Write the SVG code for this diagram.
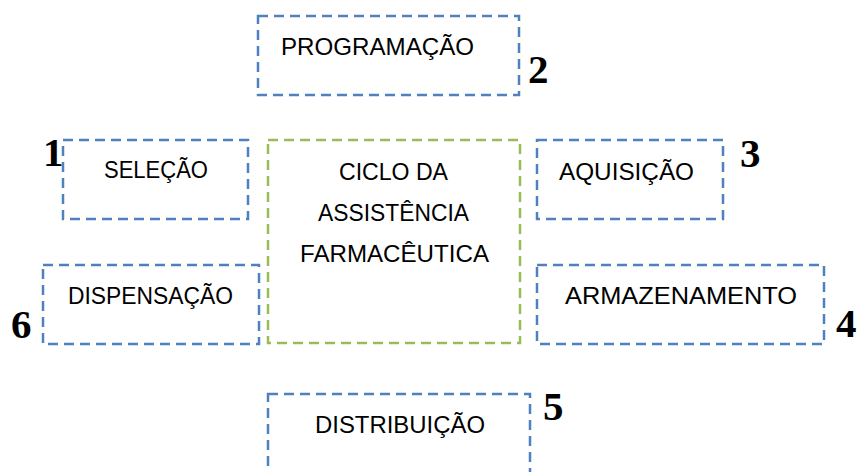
<svg xmlns="http://www.w3.org/2000/svg" width="860" height="472" viewBox="0 0 860 472">
<style>
.box{fill:none;stroke:#4F81BD;stroke-width:2.5;stroke-dasharray:10 6;}
.cbox{fill:none;stroke:#9BBB59;stroke-width:2.5;stroke-dasharray:10 6;}
.lbl{font-family:"Liberation Sans",Arial,sans-serif;font-size:24px;fill:#000;}
.num{font-family:"Liberation Serif","Times New Roman",serif;font-size:41px;font-weight:bold;fill:#000;}
</style>
<rect width="860" height="472" fill="#fff"/>
<g id="connectors"></g>
<g id="programacao">
<rect class="box" x="258" y="16" width="261" height="79"/>
<text class="lbl" x="281" y="55" textLength="193" lengthAdjust="spacingAndGlyphs">PROGRAMAÇÃO</text>
<text class="num" x="528" y="83">2</text>
</g>
<g id="selecao">
<rect class="box" x="63" y="140" width="185" height="79"/>
<text class="lbl" x="104" y="178" textLength="104" lengthAdjust="spacingAndGlyphs">SELEÇÃO</text>
<text class="num" x="43" y="166">1</text>
</g>
<g id="ciclo">
<rect class="cbox" x="268" y="140" width="252" height="203"/>
<text class="lbl" x="339" y="180" textLength="109" lengthAdjust="spacingAndGlyphs">CICLO DA</text>
<text class="lbl" x="318" y="221" textLength="151" lengthAdjust="spacingAndGlyphs">ASSISTÊNCIA</text>
<text class="lbl" x="300" y="262" textLength="189" lengthAdjust="spacingAndGlyphs">FARMACÊUTICA</text>
</g>
<g id="aquisicao">
<rect class="box" x="537" y="140" width="186" height="79"/>
<text class="lbl" x="559" y="180" textLength="135" lengthAdjust="spacingAndGlyphs">AQUISIÇÃO</text>
<text class="num" x="740" y="167">3</text>
</g>
<g id="dispensacao">
<rect class="box" x="43" y="265" width="216" height="79"/>
<text class="lbl" x="68" y="304" textLength="165" lengthAdjust="spacingAndGlyphs">DISPENSAÇÃO</text>
<text class="num" x="11" y="338">6</text>
</g>
<g id="armazenamento">
<rect class="box" x="537" y="265" width="287" height="79"/>
<text class="lbl" x="565" y="304" textLength="232" lengthAdjust="spacingAndGlyphs">ARMAZENAMENTO</text>
<text class="num" x="836" y="337">4</text>
</g>
<g id="distribuicao">
<rect class="box" x="268" y="394" width="262" height="110"/>
<text class="lbl" x="315" y="433" textLength="170" lengthAdjust="spacingAndGlyphs">DISTRIBUIÇÃO</text>
<text class="num" x="543" y="420">5</text>
</g>
</svg>
